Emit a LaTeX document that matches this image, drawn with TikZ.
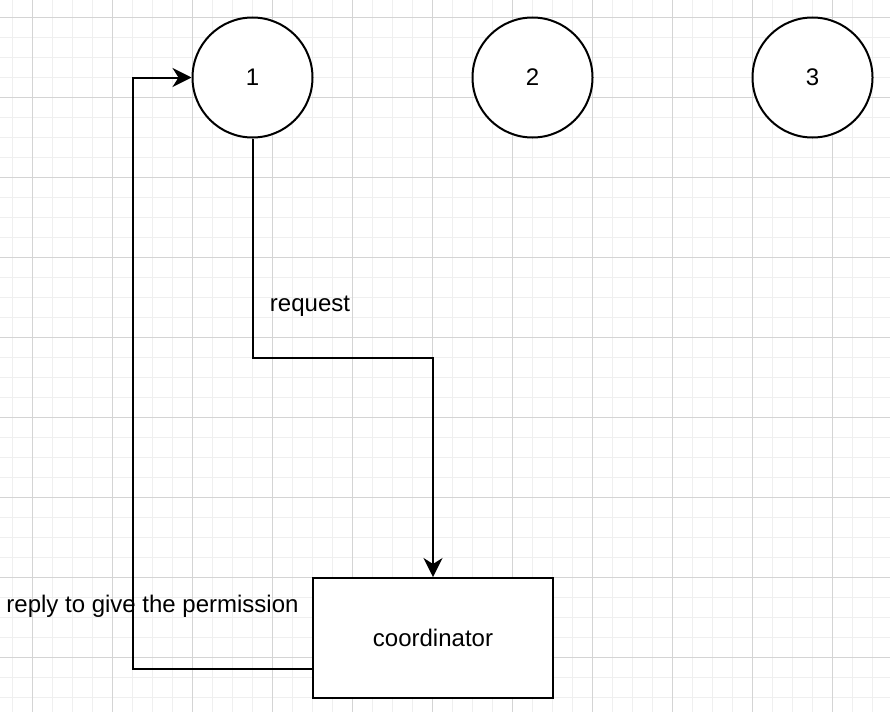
\documentclass[tikz,border=0pt]{standalone}
\usepackage{fontspec}
\setmainfont{Liberation Sans}
\usetikzlibrary{arrows.meta,calc}
\definecolor{gridminor}{HTML}{EFEFEF}
\definecolor{gridmajor}{HTML}{D4D4D4}
\begin{document}
\begin{tikzpicture}[x=1pt,y=-1pt,
  every node/.style={font=\fontsize{24}{28}\selectfont},
  proc/.style={circle,draw=black,line width=2pt,fill=white,minimum size=120pt,inner sep=0pt},
  coordbox/.style={rectangle,draw=black,line width=2pt,fill=white,minimum width=240pt,minimum height=120pt,inner sep=0pt},
  conn/.style={line width=2pt,-{Stealth[length=19pt,width=19pt,inset=6pt]}},
  lbl/.style={inner sep=0pt}]
\useasboundingbox (0,0) rectangle (890,712);
\fill[white] (0,0) rectangle (890,712);
% grid
\foreach \x in {12.5,32.5,...,890} \draw[gridminor,line width=1pt] (\x,0) -- (\x,712);
\foreach \y in {-2.5,17.5,...,712} \draw[gridminor,line width=1pt] (0,\y) -- (890,\y);
\foreach \x in {32.5,112.5,...,890} \draw[gridmajor,line width=1pt] (\x,0) -- (\x,712);
\foreach \y in {17.5,97.5,...,712} \draw[gridmajor,line width=1pt] (0,\y) -- (890,\y);
% nodes
\node[proc] (c1) at (252.5,77.5) {1};
\node[proc] (c2) at (532.5,77.5) {2};
\node[proc] (c3) at (812.5,77.5) {3};
\node[coordbox] (coord) at (433,638) {coordinator};
% connectors
\coordinate (rq) at (433,357.5);
\coordinate (rp) at (133,77.5);
\draw[conn] (c1.south) |- (rq) -- (coord.north);
\draw[conn] ($(coord.south west)!0.25!(coord.north west)$) -| (rp) -- (c1.west);
% labels
\node[lbl] (lreq) at (310,306) {request};
\node[lbl] (lrep) at (152.5,606) {reply to give the permission};
\end{tikzpicture}
\end{document}
